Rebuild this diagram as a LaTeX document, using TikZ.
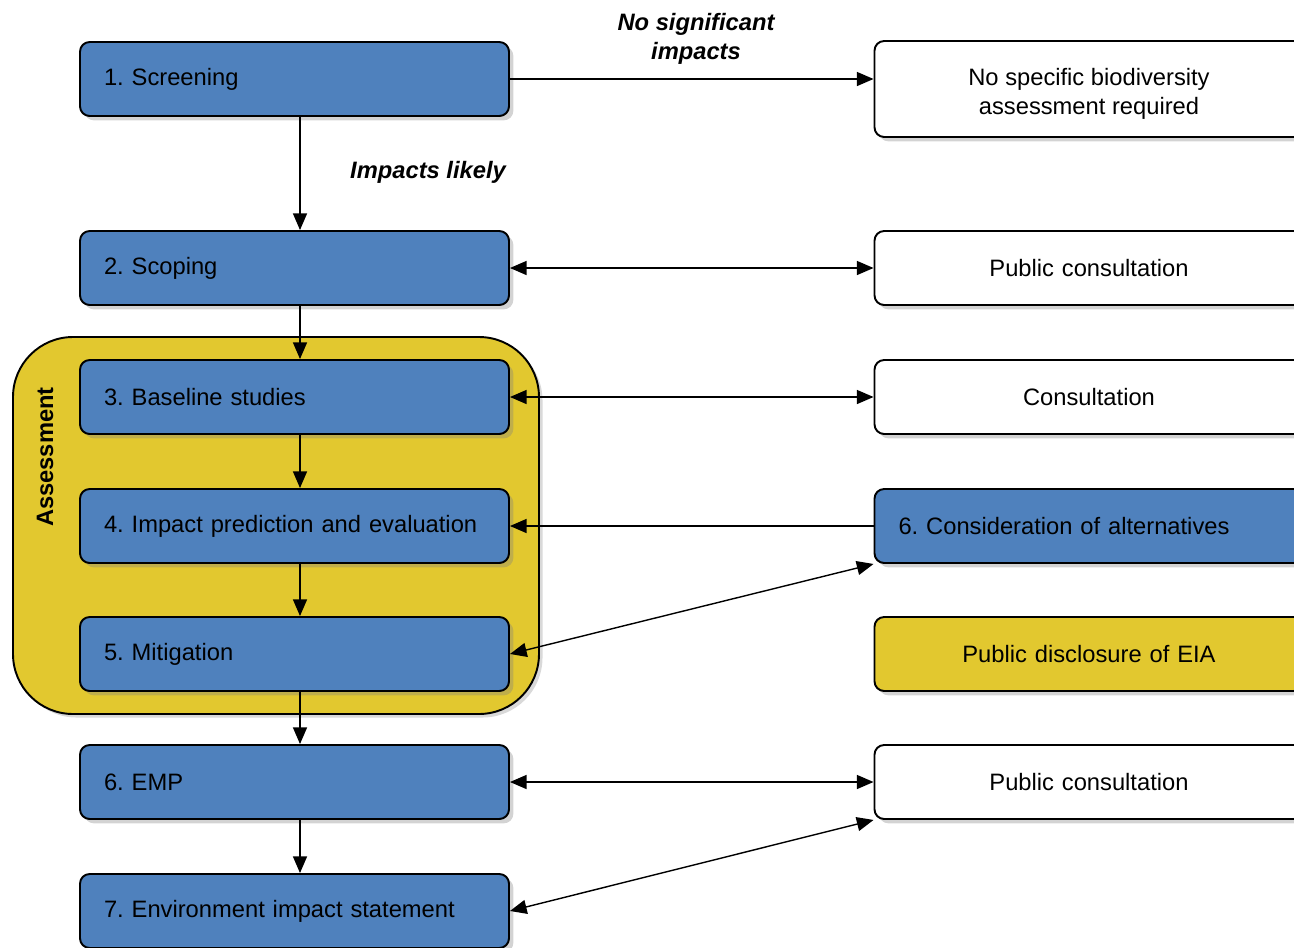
\documentclass[tikz,border=0pt]{standalone}
\usepackage{fontspec}
\setmainfont{Liberation Sans}
\frenchspacing
\usetikzlibrary{arrows.meta,shadows}

\definecolor{stepblue}{HTML}{4F81BD}
\definecolor{assessyellow}{HTML}{E2C82F}

\tikzset{
  box/.style={draw, line width=1.1pt, rounded corners=5.5pt, minimum height=1.48cm,
    text width=7.62cm, inner xsep=0.48cm, font=\fontsize{13.5}{16.5}\selectfont,
    drop shadow={shadow xshift=2.5pt, shadow yshift=-2.5pt, opacity=0.35}},
  stepbox/.style={box, fill=stepblue, align=left},
  sidebox/.style={box, fill=white, align=center},
  link/.style={line width=0.8pt, -{Triangle[length=9.5pt,width=8pt]}},
  twoway/.style={line width=0.8pt, {Triangle[length=9.5pt,width=8pt]}-{Triangle[length=9.5pt,width=8pt]}},
  note/.style={font=\fontsize{13.5}{16.4}\selectfont\bfseries\itshape, align=center}
}

\begin{document}
\begin{tikzpicture}
\useasboundingbox (0,0) rectangle (25.88,-18.96);

% Assessment frame
\node[draw, line width=1.1pt, fill=assessyellow, rounded corners=1.2cm,
  minimum width=10.52cm, minimum height=7.54cm,
  drop shadow={shadow xshift=2pt, shadow yshift=-2pt, opacity=0.3}] (frame) at (5.52,-10.51) {};
\node[rotate=90, font=\fontsize{13.5}{16}\selectfont\bfseries] (assess) at (0.9,-9.14) {Assessment};

% Main steps
\node[stepbox] (s1) at (5.89,-1.58) {1. Screening};
\node[stepbox] (s2) at (5.89,-5.36) {2. Scoping};
\node[stepbox] (s3) at (5.89,-7.94) {3. Baseline studies};
\node[stepbox] (s4) at (5.89,-10.52) {4. Impact prediction and evaluation};
\node[stepbox] (s5) at (5.89,-13.08) {5. Mitigation};
\node[stepbox] (s6) at (5.89,-15.64) {6. EMP};
\node[stepbox] (s7) at (5.89,-18.22) {7. Environment impact statement};

% Side boxes
\node[sidebox, minimum height=1.92cm] (r1) at (21.78,-1.78) {};
\node[align=center, font=\fontsize{13.5}{16.5}\selectfont] (r1text) at (21.78,-1.87) {No specific biodiversity\\assessment required};
\node[sidebox] (r2) at (21.78,-5.36) {Public consultation};
\node[sidebox] (r3) at (21.78,-7.94) {Consultation};
\node[stepbox] (r4) at (21.78,-10.52) {6. Consideration of alternatives};
\node[sidebox, fill=assessyellow] (r5) at (21.78,-13.08) {Public disclosure of EIA};
\node[sidebox] (r6) at (21.78,-15.64) {Public consultation};

% Labels
\node[note] (nosig) at (13.92,-0.77) {No significant\\impacts};
\node[note, anchor=west] (likely) at (6.88,-3.44) {Impacts likely};

% Flow down
\coordinate (axis) at (6.0,0);
\foreach \a/\b in {s1/s2, s2/s3, s3/s4, s4/s5, s5/s6, s6/s7} {
    \draw[link] (\a.south -| axis) -- (\b.north -| axis);
}

% Links to the side
\draw[link] (s1.east) -- (s1.east -| r1.west);
\draw[twoway] (s2.east) -- (r2.west);
\draw[twoway] (s3.east) -- (r3.west);
\draw[link] (r4.west) -- (s4.east);
\draw[twoway] (s5.east) -- (r4.south west);
\draw[twoway] (s6.east) -- (r6.west);
\draw[twoway] (s7.east) -- (r6.south west);

\end{tikzpicture}
\end{document}
